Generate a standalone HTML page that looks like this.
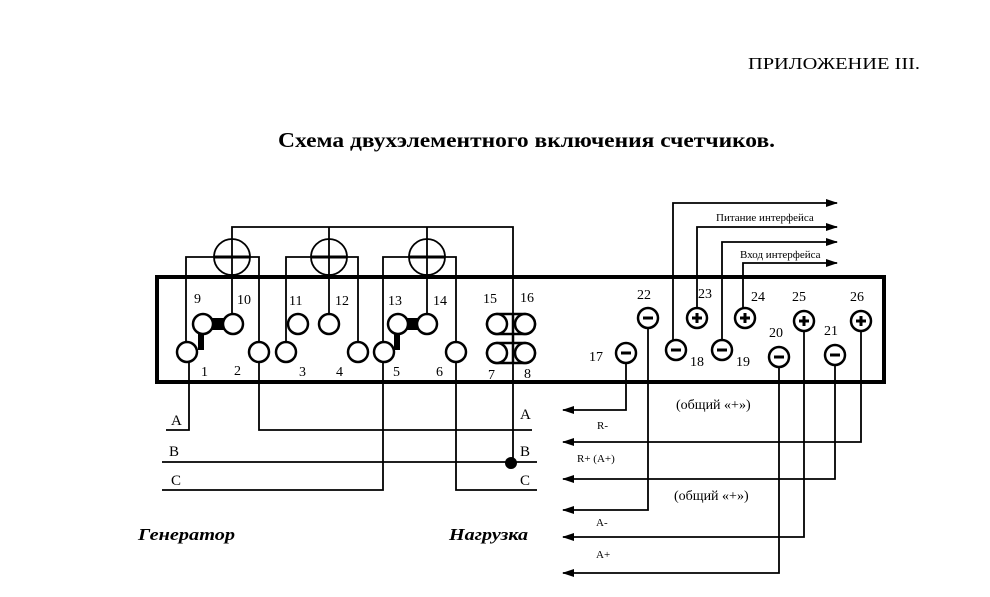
<!DOCTYPE html>
<html><head><meta charset="utf-8"><style>
html,body{margin:0;padding:0;background:#fff;}
svg{display:block;}
text{font-family:"Liberation Serif","DejaVu Serif",serif;fill:#000;}
</style></head><body>
<svg width="990" height="597" viewBox="0 0 990 597" xmlns="http://www.w3.org/2000/svg">
<defs>
<marker id="ar" markerWidth="12" markerHeight="8" refX="11" refY="4" orient="auto" markerUnits="userSpaceOnUse">
<path d="M0,0 L12,4 L0,8 Z" fill="#000"/>
</marker>
</defs>
<text x="748" y="69" font-size="17" textLength="172" lengthAdjust="spacingAndGlyphs">ПРИЛОЖЕНИЕ III.</text>
<text x="278" y="147" font-size="21" font-weight="bold" textLength="497" lengthAdjust="spacingAndGlyphs">Схема двухэлементного включения счетчиков.</text>

<g stroke="#000" fill="none" stroke-width="1.8">
<polyline points="232,257 232,227 513,227 513,463"/>
<line x1="329" y1="227" x2="329" y2="257"/>
<line x1="427" y1="227" x2="427" y2="257"/>
<circle cx="232" cy="257" r="18"/>
<circle cx="329" cy="257" r="18"/>
<circle cx="427" cy="257" r="18"/>
<polyline points="186,352 186,257 259,257 259,352"/>
<polyline points="286,352 286,257 358,257 358,352"/>
<polyline points="383,352 383,257 456,257 456,352"/>
<line x1="232" y1="257" x2="232" y2="324"/>
<line x1="329" y1="257" x2="329" y2="324"/>
<line x1="427" y1="257" x2="427" y2="324"/>
<line x1="214" y1="257" x2="250" y2="257" stroke-width="3"/>
<line x1="311" y1="257" x2="347" y2="257" stroke-width="3"/>
<line x1="409" y1="257" x2="445" y2="257" stroke-width="3"/>
</g>

<rect x="157" y="277" width="727" height="105" fill="none" stroke="#000" stroke-width="4"/>

<g stroke="#000" fill="#fff" stroke-width="2.5">
<rect x="203" y="318" width="30" height="12" fill="#000" stroke="none"/>
<rect x="198" y="324" width="6" height="26" fill="#000" stroke="none"/>
<rect x="398" y="318" width="29" height="12" fill="#000" stroke="none"/>
<rect x="394" y="324" width="6" height="26" fill="#000" stroke="none"/>
<circle cx="187" cy="352" r="10"/>
<circle cx="203" cy="324" r="10"/>
<circle cx="233" cy="324" r="10"/>
<circle cx="259" cy="352" r="10"/>
<circle cx="286" cy="352" r="10"/>
<circle cx="298" cy="324" r="10"/>
<circle cx="329" cy="324" r="10"/>
<circle cx="358" cy="352" r="10"/>
<circle cx="384" cy="352" r="10"/>
<circle cx="398" cy="324" r="10"/>
<circle cx="427" cy="324" r="10"/>
<circle cx="456" cy="352" r="10"/>
<rect x="487" y="314" width="48" height="20" rx="10"/>
<rect x="487" y="343" width="48" height="20" rx="10"/>
<circle cx="497" cy="324" r="10"/>
<circle cx="525" cy="324" r="10"/>
<circle cx="497" cy="353" r="10"/>
<circle cx="525" cy="353" r="10"/>
</g>
<line x1="513" y1="314" x2="513" y2="363" stroke="#000" stroke-width="2.5"/>

<g font-size="14">
<text x="194" y="303">9</text><text x="237" y="304">10</text>
<text x="289" y="305">11</text><text x="335" y="305">12</text>
<text x="388" y="305">13</text><text x="433" y="305">14</text>
<text x="483" y="303">15</text><text x="520" y="302">16</text>
<text x="201" y="376">1</text><text x="234" y="375">2</text>
<text x="299" y="376">3</text><text x="336" y="376">4</text>
<text x="393" y="376">5</text><text x="436" y="376">6</text>
<text x="488" y="379">7</text><text x="524" y="378">8</text>
</g>

<g stroke="#000" fill="none" stroke-width="1.8">
<polyline points="166,430 189,430 189,362"/>
<polyline points="259,362 259,430 532,430"/>
<line x1="162" y1="462" x2="537" y2="462"/>
<polyline points="162,490 383,490 383,362"/>
<polyline points="456,362 456,490 537,490"/>
</g>
<circle cx="511" cy="463" r="6" fill="#000"/>
<g font-size="15">
<text x="171" y="425">A</text><text x="169" y="456">B</text><text x="171" y="485">C</text>
<text x="520" y="419">A</text><text x="520" y="456">B</text><text x="520" y="485">C</text>
</g>
<text x="138" y="540" font-size="17" font-weight="bold" font-style="italic" textLength="97" lengthAdjust="spacingAndGlyphs">Генератор</text>
<text x="449" y="540" font-size="17" font-weight="bold" font-style="italic" textLength="79" lengthAdjust="spacingAndGlyphs">Нагрузка</text>

<g stroke="#000" fill="none" stroke-width="1.8">
<polyline points="673,350 673,203 837,203" marker-end="url(#ar)"/>
<polyline points="697,318 697,227 837,227" marker-end="url(#ar)"/>
<polyline points="722,350 722,242 837,242" marker-end="url(#ar)"/>
<polyline points="743,318 743,263 837,263" marker-end="url(#ar)"/>
<polyline points="626,353 626,410 563,410" marker-end="url(#ar)"/>
<polyline points="861,321 861,442 563,442" marker-end="url(#ar)"/>
<polyline points="835,355 835,479 563,479" marker-end="url(#ar)"/>
<polyline points="648,318 648,510 563,510" marker-end="url(#ar)"/>
<polyline points="804,321 804,537 563,537" marker-end="url(#ar)"/>
<polyline points="779,357 779,573 563,573" marker-end="url(#ar)"/>
</g>
<g font-size="11">
<text x="716" y="221">Питание интерфейса</text>
<text x="740" y="258">Вход интерфейса</text>
</g>

<g stroke="#000" fill="#fff" stroke-width="2.5">
<circle cx="648" cy="318" r="10"/>
<circle cx="626" cy="353" r="10"/>
<circle cx="676" cy="350" r="10"/>
<circle cx="697" cy="318" r="10"/>
<circle cx="722" cy="350" r="10"/>
<circle cx="745" cy="318" r="10"/>
<circle cx="779" cy="357" r="10"/>
<circle cx="804" cy="321" r="10"/>
<circle cx="835" cy="355" r="10"/>
<circle cx="861" cy="321" r="10"/>
</g>
<g stroke="#000" stroke-width="3">
<line x1="643" y1="318" x2="653" y2="318"/>
<line x1="621" y1="353" x2="631" y2="353"/>
<line x1="671" y1="350" x2="681" y2="350"/>
<line x1="717" y1="350" x2="727" y2="350"/>
<line x1="774" y1="357" x2="784" y2="357"/>
<line x1="830" y1="355" x2="840" y2="355"/>
<line x1="692" y1="318" x2="702" y2="318"/><line x1="697" y1="313" x2="697" y2="323"/>
<line x1="740" y1="318" x2="750" y2="318"/><line x1="745" y1="313" x2="745" y2="323"/>
<line x1="799" y1="321" x2="809" y2="321"/><line x1="804" y1="316" x2="804" y2="326"/>
<line x1="856" y1="321" x2="866" y2="321"/><line x1="861" y1="316" x2="861" y2="326"/>
</g>
<g font-size="14">
<text x="637" y="299" font-family="Liberation Sans, sans-serif">22</text>
<text x="589" y="361" font-family="Liberation Sans, sans-serif">17</text>
<text x="690" y="366" font-family="Liberation Sans, sans-serif">18</text>
<text x="736" y="366" font-family="Liberation Sans, sans-serif">19</text>
<text x="698" y="298" font-family="Liberation Sans, sans-serif">23</text>
<text x="751" y="301" font-family="Liberation Sans, sans-serif">24</text>
<text x="769" y="337" font-family="Liberation Sans, sans-serif">20</text>
<text x="792" y="301" font-family="Liberation Sans, sans-serif">25</text>
<text x="824" y="335" font-family="Liberation Sans, sans-serif">21</text>
<text x="850" y="301" font-family="Liberation Sans, sans-serif">26</text>
</g>
<g font-size="14">
<text x="676" y="409">(общий «+»)</text>
<text x="674" y="500">(общий «+»)</text>
</g>
<g font-size="11">
<text x="597" y="429">R-</text>
<text x="577" y="462">R+ (A+)</text>
<text x="596" y="526">A-</text>
<text x="596" y="558">A+</text>
</g>
</svg>
</body></html>
